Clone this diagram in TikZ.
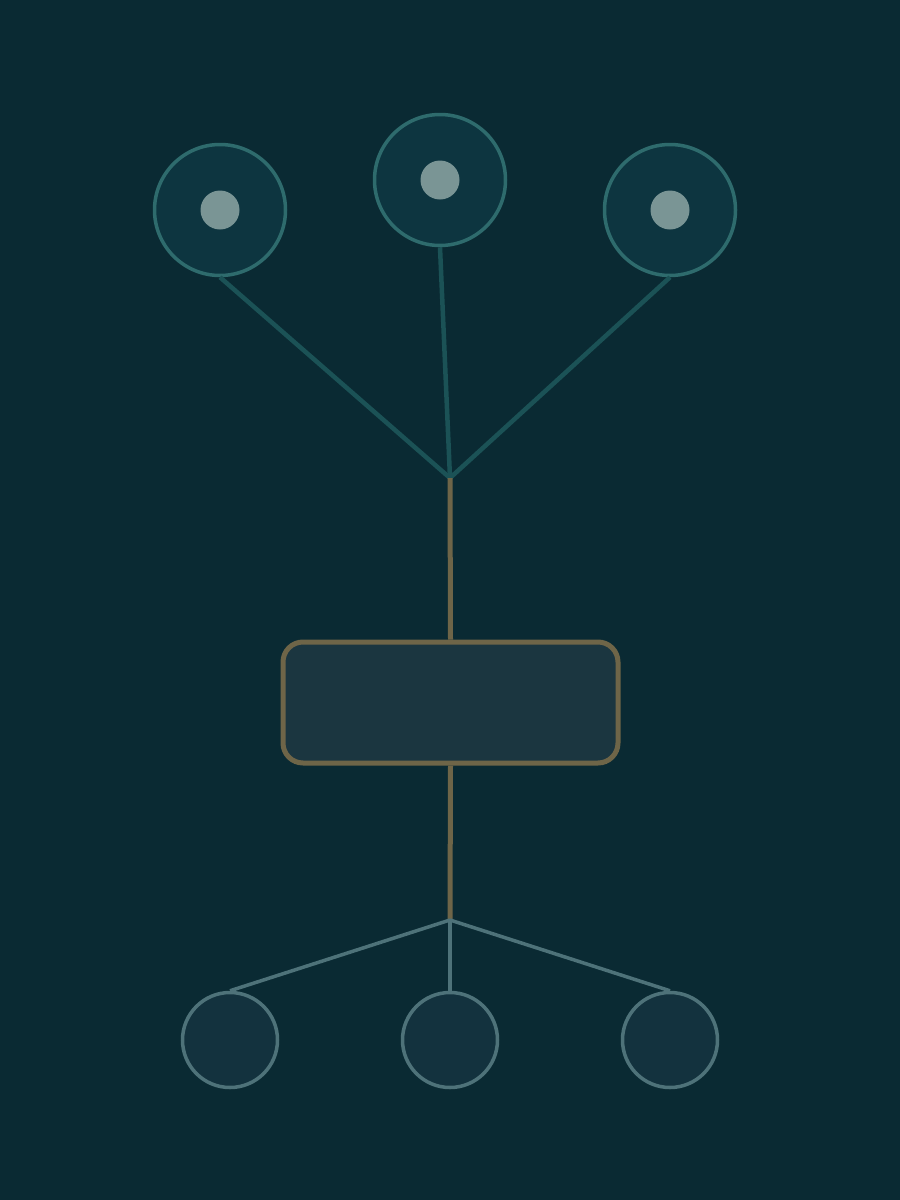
\documentclass[tikz,border=0pt]{standalone}
\begin{document}
\begin{tikzpicture}[x=1pt,y=-1pt,
  topc/.style={circle,draw=topstroke,fill=topfill,line width=3.5pt,minimum size=131pt,inner sep=0pt},
  dotc/.style={circle,fill=dotcol,minimum size=39pt,inner sep=0pt},
  botc/.style={circle,draw=botstroke,fill=botfill,line width=3.5pt,minimum size=95pt,inner sep=0pt},
  hubbox/.style={rectangle,rounded corners=20pt,draw=goldc,fill=boxfill,line width=5pt,minimum width=335pt,minimum height=121pt,inner sep=0pt},
  upline/.style={draw=uplinec,line width=4.5pt},
  goldline/.style={draw=goldc,line width=5pt},
  lowline/.style={draw=botstroke,line width=3.5pt}]
\definecolor{bgc}{HTML}{0A2A33}
\definecolor{topstroke}{HTML}{2E6B6D}
\definecolor{topfill}{HTML}{0D3540}
\definecolor{dotcol}{HTML}{7A9595}
\definecolor{uplinec}{HTML}{1B5256}
\definecolor{goldc}{HTML}{6E6548}
\definecolor{boxfill}{HTML}{1B3640}
\definecolor{botstroke}{HTML}{4E7279}
\definecolor{botfill}{HTML}{13323E}
\fill[bgc] (0,0) rectangle (900,1200);
\useasboundingbox (0,0) rectangle (900,1200);
\coordinate (hubtop) at (450,478);
\coordinate (hubbot) at (450,920);
\node[topc] (t1) at (220,210) {};
\node[topc] (t2) at (440,180) {};
\node[topc] (t3) at (670,210) {};
\draw[upline] (t1.south) -- (hubtop);
\draw[upline] (t2.south) -- (hubtop);
\draw[upline] (t3.south) -- (hubtop);
\node[dotc] (d1) at (t1.center) {};
\node[dotc] (d2) at (t2.center) {};
\node[dotc] (d3) at (t3.center) {};
\node[hubbox] (box) at (450.5,702.5) {};
\draw[goldline] (hubtop) -- (box.north);
\draw[goldline] (box.south) -- (hubbot);
\node[botc] (b1) at (230,1040) {};
\node[botc] (b2) at (450,1040) {};
\node[botc] (b3) at (670,1040) {};
\draw[lowline] (hubbot) -- (b1.north);
\draw[lowline] (hubbot) -- (b2.north);
\draw[lowline] (hubbot) -- (b3.north);
\end{tikzpicture}
\end{document}
